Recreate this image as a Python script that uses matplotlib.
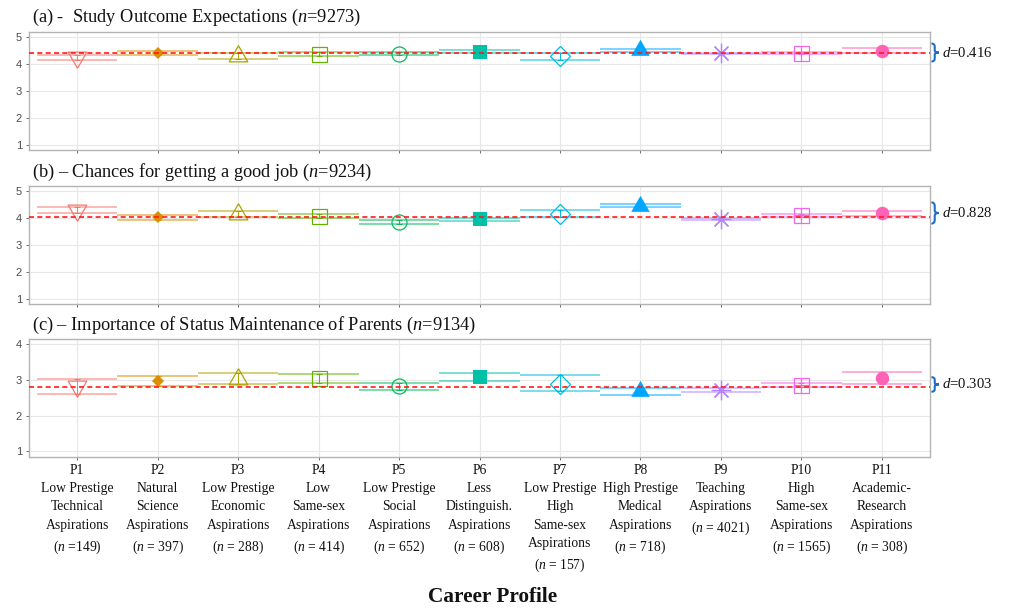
import numpy as np
import matplotlib
matplotlib.use('Agg')
import matplotlib.pyplot as plt
from matplotlib.path import Path
from matplotlib.patches import PathPatch
from matplotlib.transforms import blended_transform_factory

plt.rcParams['font.family'] = ['Liberation Serif', 'DejaVu Serif']
plt.rcParams['mathtext.fontset'] = 'custom'
plt.rcParams['mathtext.rm'] = 'Liberation Serif'
plt.rcParams['mathtext.it'] = 'Liberation Serif:italic'

# ---- data ----
profiles = ['P1', 'P2', 'P3', 'P4', 'P5', 'P6', 'P7', 'P8', 'P9', 'P10', 'P11']
names = ['Low Prestige\nTechnical\nAspirations', 'Natural\nScience\nAspirations',
         'Low Prestige\nEconomic\nAspirations', 'Low\nSame-sex\nAspirations',
         'Low Prestige\nSocial\nAspirations', 'Less\nDistinguish.\nAspirations',
         'Low Prestige\nHigh\nSame-sex\nAspirations', 'High Prestige\nMedical\nAspirations',
         'Teaching\nAspirations', 'High\nSame-sex\nAspirations',
         'Academic-\nResearch\nAspirations']
n_labels = ['($n$ =149)', '($n$ = 397)', '($n$ = 288)', '($n$ = 414)', '($n$ = 652)',
            '($n$ = 608)', '($n$ = 157)', '($n$ = 718)', '($n$ = 4021)',
            '($n$ = 1565)', '($n$ = 308)']

a_mean = [4.25, 4.42, 4.31, 4.39, 4.38, 4.47, 4.29, 4.52, 4.41, 4.41, 4.51]
a_lo = [4.14, 4.36, 4.21, 4.32, 4.33, 4.42, 4.17, 4.47, 4.39, 4.38, 4.42]
a_hi = [4.36, 4.48, 4.41, 4.46, 4.44, 4.52, 4.41, 4.57, 4.43, 4.44, 4.60]

b_mean = [4.29, 4.03, 4.15, 4.08, 3.85, 3.95, 4.16, 4.46, 3.95, 4.10, 4.18]
b_lo = [4.19, 3.94, 4.05, 4.01, 3.77, 3.88, 4.04, 4.39, 3.91, 4.05, 4.09]
b_hi = [4.40, 4.12, 4.26, 4.16, 3.94, 4.01, 4.28, 4.52, 3.99, 4.15, 4.27]

c_mean = [2.82, 2.97, 3.04, 3.05, 2.82, 3.09, 2.90, 2.68, 2.73, 2.86, 3.06]
c_lo = [2.61, 2.84, 2.88, 2.92, 2.71, 2.98, 2.68, 2.59, 2.67, 2.80, 2.90]
c_hi = [3.02, 3.10, 3.20, 3.18, 2.92, 3.19, 3.13, 2.77, 2.79, 2.92, 3.22]

overall_mean = [4.42, 4.02, 2.81]
d_values = ['0.416', '0.828', '0.303']
titles = ['(a) -  Study Outcome Expectations ($n$=9273)',
          '(b) \u2013 Chances for getting a good job ($n$=9234)',
          '(c) \u2013 Importance of Status Maintenance of Parents ($n$=9134)']

# ---- style ----
colors = ['#F8766D', '#DB8E00', '#AEA200', '#64B200', '#00BD5C', '#00C1A7',
          '#00BADE', '#00A6FF', '#B385FF', '#EF67EB', '#FF63B6']
tri_up = [(0, 2), (-1.732, -1), (1.732, -1), (0, 2)]
tri_dn = [(0, -2), (-1.732, 1), (1.732, 1), (0, -2)]
# (marker, size, filled)
markers = [(tri_dn, 15.5, False), ('D', 6.2, True), (tri_up, 15.5, False),
           ('s', 10.8, False), ('o', 10.8, False), ('s', 10.0, True),
           ('D', 10.2, False), (tri_up, 15.4, True), ((8, 2, 0), 14.0, False),
           ('s', 10.8, False), ('o', 9.7, True)]

W, H = 1016, 609
ax_rects = [(32, 150), (185.7, 304), (339, 456.7)]
ylims = [(0.8, 5.2), (0.8, 5.2), (0.85, 4.15)]
yticks = [[1, 2, 3, 4, 5], [1, 2, 3, 4, 5], [1, 2, 3, 4]]
brace_span = [(4.10, 4.77), (3.79, 4.58), (2.67, 3.08)]
title_y = [17, 172, 325]

panels = [(a_mean, a_lo, a_hi), (b_mean, b_lo, b_hi), (c_mean, c_lo, c_hi)]

fig = plt.figure(figsize=(W / 100, H / 100), dpi=100)
x = np.arange(1, len(profiles) + 1)


def draw_brace(ax, y0, y1, color):
    tr = blended_transform_factory(ax.transAxes, ax.transData)
    x0 = 1.0015
    w = 7.5 / 901
    xm = x0 + w * 0.45
    ym = (y0 + y1) / 2
    h = y1 - y0
    verts = [(x0, y1), (xm, y1), (xm, y1 - 0.18 * h), (xm, ym + 0.12 * h),
             (xm, ym), (x0 + w, ym), (xm, ym), (xm, ym - 0.12 * h),
             (xm, y0 + 0.18 * h), (xm, y0), (x0, y0)]
    codes = [Path.MOVETO, Path.CURVE3, Path.CURVE3, Path.LINETO,
             Path.CURVE3, Path.CURVE3, Path.CURVE3, Path.CURVE3,
             Path.LINETO, Path.CURVE3, Path.CURVE3]
    ax.add_patch(PathPatch(Path(verts, codes), fill=False, edgecolor=color,
                           lw=1.5, transform=tr, clip_on=False))
    return tr, ym


for k, (mean, lo, hi) in enumerate(panels):
    top, bot = ax_rects[k]
    ax = fig.add_axes([29 / W, 1 - bot / H, 901 / W, (bot - top) / H])
    ax.set_xlim(0.4, 11.6)
    ax.set_ylim(*ylims[k])
    ax.set_yticks(yticks[k])
    ax.set_xticks(x)
    ax.grid(True, color='#e8e8e8', lw=0.8, zorder=0)
    ax.set_axisbelow(True)
    for s in ax.spines.values():
        s.set_color('#b3b3b3')
        s.set_linewidth(1.0)
    ax.tick_params(length=2.5, width=0.6, color='#555555', pad=2.5)
    for lab in ax.get_yticklabels():
        lab.set_fontfamily('Liberation Sans')
        lab.set_fontsize(8)
        lab.set_color('#4d4d4d')

    for i in range(len(profiles)):
        col = colors[i]
        ax.hlines([lo[i], hi[i]], x[i] - 0.5, x[i] + 0.5, colors=col,
                  lw=1.2, alpha=0.6, zorder=2)
        ax.errorbar(x[i], mean[i], yerr=[[mean[i] - lo[i]], [hi[i] - mean[i]]],
                    fmt='none', ecolor=col, elinewidth=0.7, capsize=2,
                    capthick=0.7, zorder=3)
        mk, ms, filled = markers[i]
        if filled:
            ax.plot(x[i], mean[i], marker=mk, ms=ms, color=col, mew=0,
                    ls='none', zorder=4)
        else:
            ax.plot(x[i], mean[i], marker=mk, ms=ms, mfc='none', mec=col,
                    mew=0.9, ls='none', zorder=4)
        if i == 9:
            ax.plot(x[i], mean[i], marker='+', ms=ms, mec=col, mew=0.9,
                    ls='none', zorder=4)

    ax.axhline(overall_mean[k], color='#ff1a1a', ls=(0, (3, 2)), lw=1.2,
               zorder=5)

    tr, ym = draw_brace(ax, brace_span[k][0], brace_span[k][1], '#1c6fc2')
    ax.text(1.0135, ym, '$d$=' + d_values[k], transform=tr, ha='left',
            va='center', fontsize=10.6, color='#111111')

    fig.text(32 / W, 1 - title_y[k] / H, titles[k], ha='left', va='center',
             fontsize=13.2, color='#111111')

    if k < 2:
        ax.set_xticklabels([])
    else:
        labels = [p + '\n' + nm + '\n' + nl
                  for p, nm, nl in zip(profiles, names, n_labels)]
        ax.set_xticklabels(labels, fontsize=9.8, linespacing=1.54,
                           color='#111111', va='top')

fig.text(493 / W, 1 - 597 / H, 'Career Profile', ha='center', va='center',
         fontsize=15.3, fontweight='bold', color='#111111')

fig.savefig('out.png', dpi=100)
